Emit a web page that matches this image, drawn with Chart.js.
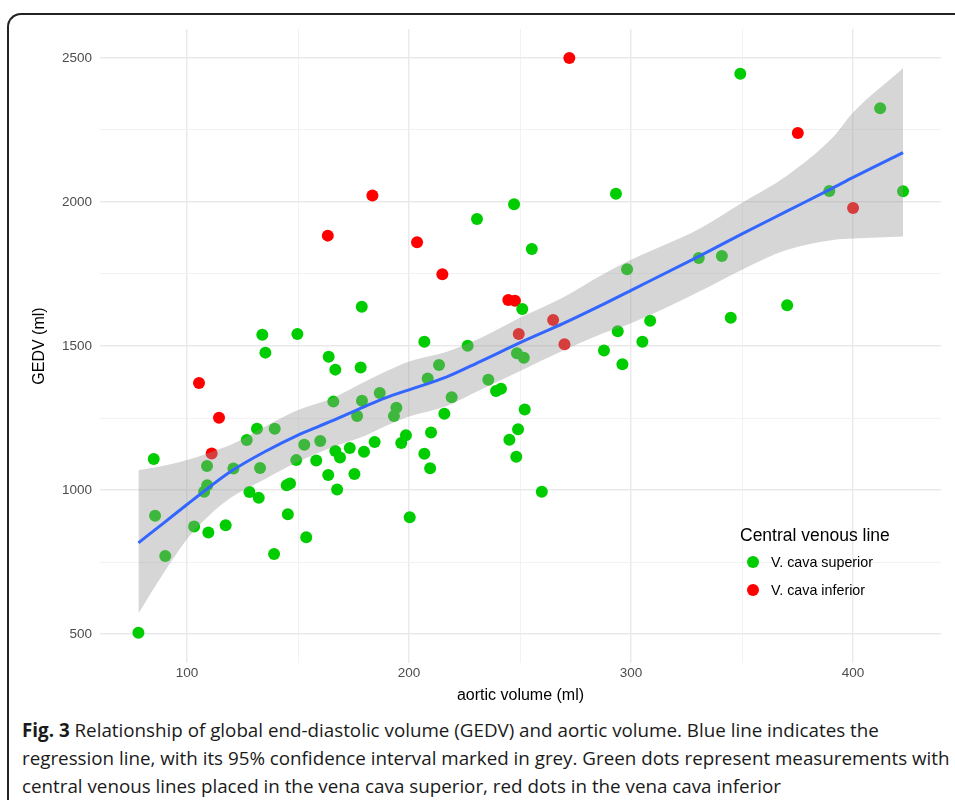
<!DOCTYPE html>
<html>
<head>
<meta charset="utf-8">
<script src="https://cdn.jsdelivr.net/npm/chart.js@4.4.1/dist/chart.umd.min.js"></script>
<style>
  body { margin: 0; background: #fff; width: 955px; height: 800px; overflow: hidden; position: relative; }
  #frame { position: absolute; left: 7px; top: 13px; width: 2000px; height: 2000px;
           border-left: 2px solid #222; border-top: 2px solid #222; border-top-left-radius: 14px; }
  #chart { position: absolute; left: 0; top: 0; }
  .legend { position: absolute; font-family: "Liberation Sans", Arial, sans-serif; color: #000; }
  .legend .title { position: absolute; left: 740px; top: 525px; font-size: 17.5px; white-space: nowrap; }
  .legend .item { position: absolute; left: 747px; font-size: 14.3px; white-space: nowrap; line-height: 16px; }
  .legend .dot { display: inline-block; width: 12px; height: 12px; border-radius: 50%; vertical-align: -1px; margin-right: 12px; }
  #caption { position: absolute; left: 22px; top: 716px; font-family: "Open Sans", sans-serif; font-size: 18.8px;
             line-height: 28px; color: #1a1a1a; white-space: nowrap; }
  #caption b { font-weight: 700; }
</style>
</head>
<body>
<div id="frame"></div>
<canvas id="chart" width="955" height="715"></canvas>
<div class="legend">
  <div class="title">Central venous line</div>
  <div class="item" style="top:554px"><span class="dot" style="background:#00cd00"></span>V. cava superior</div>
  <div class="item" style="top:582px"><span class="dot" style="background:#ff0000"></span>V. cava inferior</div>
</div>
<div id="caption"><b>Fig. 3</b> Relationship of global end-diastolic volume (GEDV) and aortic volume. Blue line indicates the<br>regression line, with its 95% confidence interval marked in grey. Green dots represent measurements with<br>central venous lines placed in the vena cava superior, red dots in the vena cava inferior</div>
<script>
// Points, V. cava superior (green)
const supX = [78.1, 85.0, 85.6, 90.2, 103.2, 109.0, 109.1, 107.7, 109.6, 117.4, 120.9, 126.9, 128.1, 131.5, 132.3, 132.9,
  133.9, 135.3, 139.5, 139.2, 144.9, 146.4, 145.4, 149.2, 149.7, 152.8, 153.7, 158.2, 160.0, 163.8, 163.6, 165.9,
  166.8, 166.8, 168.9, 167.6, 173.3, 175.4, 176.6, 178.2, 178.7, 178.8, 179.7, 184.5, 186.8, 193.2, 194.3, 196.5,
  198.6, 200.3, 206.9, 208.4, 206.9, 209.5, 209.9, 213.5, 215.9, 219.2, 226.4, 230.6, 235.7, 239.2, 241.4, 245.2,
  247.3, 248.3, 248.6, 249.1, 251.0, 251.7, 252.1, 255.3, 259.8, 287.8, 293.2, 294.0, 296.1, 298.2, 305.1, 308.6,
  330.5, 340.9, 344.9, 349.2, 370.3, 389.3, 412.2, 422.5];
const supY = [505, 1108, 911, 771, 874, 1084, 1017, 994, 853, 878, 1075, 1174, 993, 1213, 973, 1077,
  1539, 1477, 1213, 778, 1017, 1023, 916, 1104, 1542, 1157, 836, 1103, 1170, 1463, 1052, 1307,
  1418, 1136, 1113, 1002, 1146, 1056, 1257, 1425, 1636, 1310, 1133, 1167, 1337, 1257, 1286, 1163,
  1190, 906, 1515, 1387, 1126, 1076, 1200, 1434, 1265, 1322, 1501, 1941, 1383, 1344, 1352, 1175,
  1992, 1116, 1475, 1211, 1628, 1459, 1280, 1837, 994, 1484, 2028, 1551, 1437, 1766, 1515, 1588,
  1805, 1812, 1598, 2445, 1641, 2038, 2325, 2037];

// Points, V. cava inferior (red)
const infX = [105.4, 111.1, 114.4, 163.4, 183.5, 203.6, 215.0, 244.7, 247.7, 249.4, 264.9, 270.0, 272.2, 375.1, 400.0];
const infY = [1372, 1127, 1251, 1883, 2022, 1860, 1749, 1660, 1657, 1542, 1590, 1506, 2499, 2239, 1979];

// Smoothed regression line and its 95% band
const smoothX = [78.1, 90, 100, 110, 120, 135, 150, 165, 180, 190, 200, 217, 232, 251, 270, 286, 300, 331, 350, 370, 391, 400, 422.5];
const smoothFit = [817, 889, 950, 1010, 1066, 1133, 1191, 1239, 1290, 1322, 1348, 1393, 1446, 1515, 1580, 1639, 1693, 1813, 1889, 1967, 2049, 2085, 2171];
const smoothUpper = [1069, 1085, 1104, 1130, 1158, 1220, 1278, 1318, 1376, 1413, 1446, 1480, 1527, 1602, 1671, 1743, 1799, 1908, 1997, 2090, 2225, 2310, 2464];
const smoothLower = [572, 718, 830, 912, 975, 1038, 1098, 1148, 1188, 1224, 1255, 1292, 1347, 1417, 1486, 1540, 1579, 1690, 1765, 1833, 1868, 1873, 1880];

// Axis ticks (grid every 50 / 250, labels every 100 / 500)
const xTicks = [100, 150, 200, 250, 300, 350, 400];
const yTicks = [500, 750, 1000, 1250, 1500, 1750, 2000, 2250, 2500];
const xLabelStep = 100;
const yLabelStep = 500;

const pts = (xs, ys) => xs.map((x, i) => ({ x: x, y: ys[i] }));

const tickFont = { family: '"Liberation Sans", Arial, sans-serif', size: 13.5 };
const titleFont = { family: '"Liberation Sans", Arial, sans-serif', size: 16 };

const gridStyle = step => ({
  drawTicks: false,
  color: ctx => (ctx.tick && ctx.tick.value % step === 0) ? '#e9e9e9' : '#f0f0f0',
  lineWidth: ctx => (ctx.tick && ctx.tick.value % step === 0) ? 1.4 : 0.9
});

new Chart(document.getElementById('chart').getContext('2d'), {
  type: 'scatter',
  data: {
    datasets: [
      { label: 'V. cava superior', data: pts(supX, supY), backgroundColor: '#00cd00', borderWidth: 0, pointRadius: 6, order: 3 },
      { label: 'V. cava inferior', data: pts(infX, infY), backgroundColor: '#ff0000', borderWidth: 0, pointRadius: 6, order: 3 },
      { type: 'line', label: 'upper', data: pts(smoothX, smoothUpper), showLine: true, borderWidth: 0, pointRadius: 0,
        fill: '+1', backgroundColor: 'rgba(153,153,153,0.4)', cubicInterpolationMode: 'monotone', order: 2 },
      { type: 'line', label: 'lower', data: pts(smoothX, smoothLower), showLine: true, borderWidth: 0, pointRadius: 0,
        fill: false, cubicInterpolationMode: 'monotone', order: 2 },
      { type: 'line', label: 'fit', data: pts(smoothX, smoothFit), showLine: true, borderColor: '#3366ff', borderWidth: 3,
        pointRadius: 0, fill: false, cubicInterpolationMode: 'monotone', order: 1 }
    ]
  },
  options: {
    responsive: false,
    animation: false,
    devicePixelRatio: 1,
    layout: { padding: { left: 0, top: 29, right: 14, bottom: 0 } },
    plugins: { legend: { display: false }, tooltip: { enabled: false } },
    scales: {
      x: {
        type: 'linear', min: 60.8, max: 439.6,
        border: { display: false },
        grid: gridStyle(xLabelStep),
        afterBuildTicks: scale => { scale.ticks = xTicks.map(v => ({ value: v })); },
        ticks: {
          autoSkip: false, maxRotation: 0, padding: 2,
          color: '#4d4d4d', font: tickFont,
          callback: v => v % xLabelStep === 0 ? String(v) : ''
        },
        title: { display: true, text: 'aortic volume (ml)', color: '#000', font: titleFont, padding: { top: 0, bottom: 10 } },
        afterFit: scale => { scale.height = 52; }
      },
      y: {
        type: 'linear', min: 400, max: 2600,
        border: { display: false },
        grid: gridStyle(yLabelStep),
        afterBuildTicks: scale => { scale.ticks = yTicks.map(v => ({ value: v })); },
        ticks: {
          autoSkip: false, padding: 8,
          color: '#4d4d4d', font: tickFont,
          callback: v => v % yLabelStep === 0 ? String(v) : ''
        },
        title: { display: true, text: 'GEDV (ml)', color: '#000', font: titleFont, padding: { top: 30, bottom: 0 } },
        afterFit: scale => { scale.width = 100; }
      }
    }
  }
});
</script>
</body>
</html>
